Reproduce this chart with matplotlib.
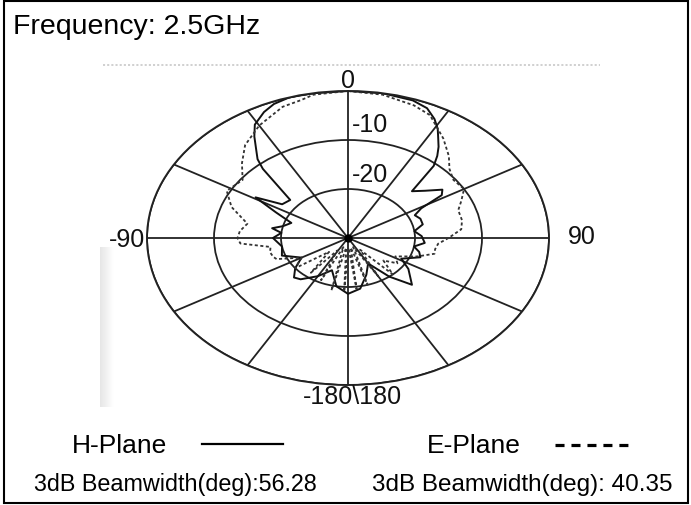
import numpy as np
import matplotlib
matplotlib.use("Agg")
import matplotlib.pyplot as plt
from matplotlib.lines import Line2D
from matplotlib.patches import Rectangle

plt.rcParams['font.family'] = ['Liberation Sans', 'DejaVu Sans']
plt.rcParams['lines.scale_dashes'] = False

# H-Plane (solid), angle in deg clockwise from top, level in dB
h_angle = [0, 10, 19, 24, 28, 31, 33, 36, 38.5, 41, 45, 50, 55, 58, 61, 65,
           70, 76, 82, 88, 95, 100, 105, 110, 118, 125, 135, 142, 150, 160,
           170, 180, 190, 200, 210, 220, 225, 232, 240, 250, 260, 270, 276,
           280, 284, 290, 296, 301, 305, 312, 318, 320, 323, 326, 329, 334,
           338, 343, 350, 360]
h_db = [0, 0, -0.3, -1, -2.5, -4, -5.3, -7, -8.6, -10.5, -16.5, -15, -12.8,
        -13.5, -17.5, -19, -18.5, -18.5, -20, -19, -18.5, -20, -19, -18.5,
        -21, -19, -16.5, -20, -24, -22, -19.5, -18.6, -20, -23, -21, -19,
        -18.6, -20, -22, -19.5, -20, -18.8, -20, -18.5, -20, -21, -18, -13.9,
        -18, -18.4, -11, -9, -7.2, -5, -3, -1.4, -0.5, 0, 0, 0]

# E-Plane (dashed)
e_angle = [0, 10, 20, 26, 35, 42, 47, 53, 60, 66, 71, 78, 84, 90, 95, 100,
           104, 110, 118, 125, 131, 138, 143, 150, 157, 163, 168, 173, 178,
           183, 188, 193, 200, 205, 212, 218, 225, 232, 240, 248, 251, 256,
           261, 266, 270, 275, 281, 290, 298, 307, 314, 321, 330, 340, 346,
           350, 360]
e_db = [0, -0.3, -1.2, -2.1, -5.2, -7.5, -9.3, -10.3, -10, -11.5, -12.6,
        -12.6, -13, -15, -16.5, -16.8, -16.7, -19, -22, -21, -23, -20, -27,
        -21, -28, -20, -28, -19.5, -28, -19, -28, -19, -28, -20.5, -27, -21,
        -26, -20, -22, -18.5, -18.2, -18, -18.3, -13.9, -13.5, -13.8, -14.7,
        -11.5, -9.5, -10.3, -8, -5.6, -3.5, -1.5, -1, -0.3, 0]

r_ticks = [-20, -10, 0]
spoke_angles = list(range(0, 360, 30))

W, H = 691, 506
fig = plt.figure(figsize=(W / 100, H / 100), dpi=100)

# faint grey edge of the scanned area on the left
edge = fig.add_axes([100 / W, 1 - 408 / H, 14 / W, 160 / H])
edge.imshow(np.linspace(0.9, 1.0, 20)[None, :], cmap='gray', vmin=0, vmax=1,
            aspect='auto', extent=(0, 1, 0, 1))
edge.axis('off')

# elliptical polar grid: box 147..549 x 92..386 px
ax = fig.add_axes([147 / W, 1 - 386 / H, 402 / W, 294 / H], projection='polar')
ax.set_aspect('auto')
ax.set_theta_zero_location('N')
ax.set_theta_direction(-1)
ax.set_ylim(-30, 0)
ax.set_yticks(r_ticks)
ax.set_xticks(np.deg2rad(spoke_angles))
ax.set_xticklabels([])
ax.set_yticklabels([])
ax.grid(True, color='#222222', linewidth=1.3, linestyle='-')
ax.spines['polar'].set_color('#222222')
ax.spines['polar'].set_linewidth(1.4)
ax.tick_params(length=0)

ax.plot(np.deg2rad(h_angle), h_db, color='#111111', linewidth=1.4)
ax.plot(np.deg2rad(e_angle), e_db, color='#333333', linewidth=1.3,
        linestyle=(0, (2.2, 1.8)))
ax.plot([0], [-30], 'o', color='black', markersize=5)

# angle / level labels
lab = dict(transform=ax.transAxes, ha='center', va='center', fontsize=18, color='#111111')
ax.text(0.5, 1.037, '0', **lab)
ax.text(1.082, 0.507, '90', **lab)
ax.text(-0.05, 0.497, '-90', **lab)
ax.text(0.51, -0.037, '-180\\180', **lab)
ax.text(0.555, 0.888, '-10', **lab)
ax.text(0.555, 0.718, '-20', **lab)

# scan artefact dotted line at top
fig.add_artist(Line2D([103 / W, 600 / W], [1 - 66 / H] * 2, color='#c8c8c8',
                      linewidth=1.2, linestyle=(0, (1.5, 1.5))))

fig.text(13 / W, 1 - 27 / H, 'Frequency: 2.5GHz', ha='left', va='center', fontsize=20.5)

fig.text(72 / W, 1 - 446 / H, 'H-Plane', ha='left', va='center', fontsize=19)
fig.add_artist(Line2D([202 / W, 283 / W], [1 - 445 / H] * 2, color='black', linewidth=1.6))
fig.text(427 / W, 1 - 446 / H, 'E-Plane', ha='left', va='center', fontsize=19)
fig.add_artist(Line2D([555 / W, 628 / W], [1 - 446 / H] * 2, color='black', linewidth=2.3,
                      linestyle=(0, (6.5, 5.0))))

fig.text(34 / W, 1 - 485 / H, '3dB Beamwidth(deg):56.28', ha='left', va='center', fontsize=16.8)
fig.text(372 / W, 1 - 485 / H, '3dB Beamwidth(deg): 40.35', ha='left', va='center', fontsize=17.5)

fig.add_artist(Rectangle((4 / W, 2 / H), 684 / W, 502 / H, transform=fig.transFigure,
                         fill=False, edgecolor='black', linewidth=1.5))

fig.savefig('out.png', dpi=100)
